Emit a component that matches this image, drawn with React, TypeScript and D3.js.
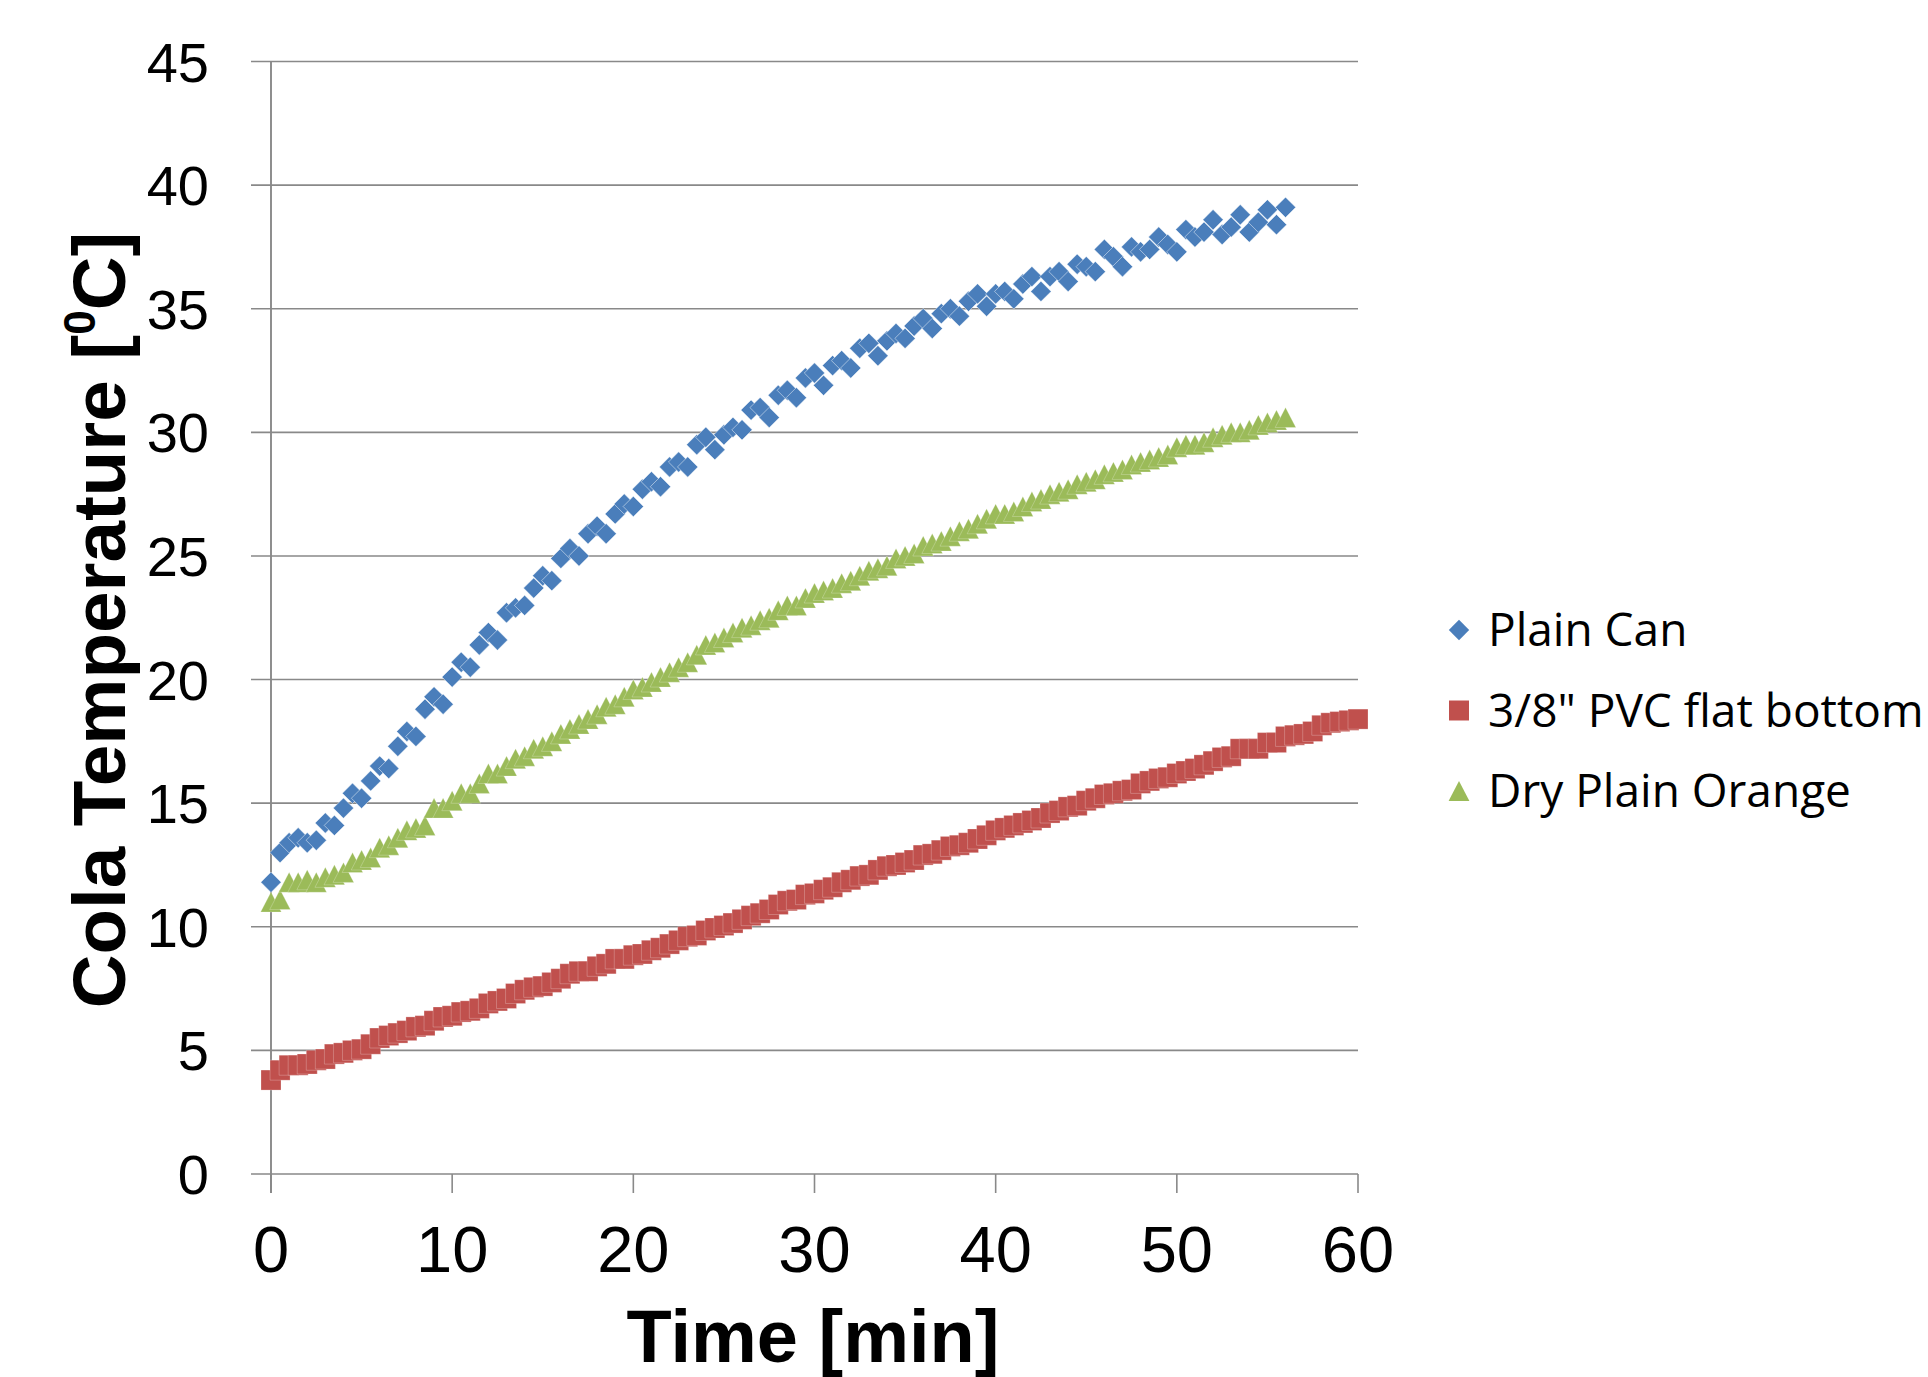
import React from "react";
import * as d3 from "d3";

// ---- data ----
const seriesNames = ["Plain Can", '3/8" PVC flat bottom', "Dry Plain Orange"];
const seriesColors = ["#4A7EBB", "#C0504D", "#9BBB59"];
const sampleStep = 0.5; // minutes between samples

const plainCan = [
  11.8, 13.0, 13.4, 13.6, 13.4, 13.5, 14.2, 14.1, 14.8, 15.4,
  15.2, 15.9, 16.5, 16.4, 17.3, 17.9, 17.7, 18.8, 19.3, 19.0,
  20.1, 20.7, 20.5, 21.4, 21.9, 21.6, 22.7, 22.9, 23.0, 23.7,
  24.2, 24.0, 24.9, 25.3, 25.0, 25.9, 26.2, 25.9, 26.7, 27.1,
  27.0, 27.7, 28.0, 27.8, 28.6, 28.8, 28.6, 29.5, 29.8, 29.3,
  29.9, 30.2, 30.1, 30.9, 31.0, 30.6, 31.5, 31.7, 31.4, 32.2,
  32.4, 31.9, 32.7, 32.9, 32.6, 33.4, 33.6, 33.1, 33.7, 34.0,
  33.8, 34.3, 34.6, 34.2, 34.8, 35.0, 34.7, 35.3, 35.6, 35.1,
  35.6, 35.7, 35.4, 36.0, 36.3, 35.7, 36.3, 36.5, 36.1, 36.8,
  36.7, 36.5, 37.4, 37.1, 36.7, 37.5, 37.3, 37.4, 37.9, 37.6,
  37.3, 38.2, 37.9, 38.1, 38.6, 38.0, 38.3, 38.8, 38.1, 38.5,
  39.0, 38.4, 39.1,
];

const pvcFlatBottom = [
  3.8, 4.2, 4.4, 4.4, 4.45, 4.6, 4.65, 4.85, 4.9, 5.0,
  5.05, 5.25, 5.5, 5.6, 5.7, 5.8, 5.95, 6.0, 6.2, 6.35,
  6.4, 6.55, 6.6, 6.7, 6.9, 7.0, 7.1, 7.3, 7.45, 7.55,
  7.6, 7.75, 7.9, 8.1, 8.2, 8.2, 8.4, 8.5, 8.7, 8.7,
  8.85, 8.9, 9.05, 9.15, 9.3, 9.45, 9.6, 9.65, 9.85, 9.95,
  10.05, 10.15, 10.3, 10.45, 10.55, 10.7, 10.9, 11.05, 11.1, 11.3,
  11.35, 11.5, 11.6, 11.8, 11.9, 12.05, 12.1, 12.3, 12.45, 12.5,
  12.6, 12.7, 12.9, 12.95, 13.1, 13.25, 13.3, 13.4, 13.55, 13.7,
  13.9, 14.0, 14.1, 14.2, 14.3, 14.4, 14.6, 14.7, 14.85, 14.9,
  15.1, 15.2, 15.35, 15.4, 15.5, 15.55, 15.8, 15.9, 16.0, 16.05,
  16.2, 16.3, 16.4, 16.55, 16.7, 16.85, 16.9, 17.2, 17.2, 17.2,
  17.45, 17.45, 17.7, 17.75, 17.8, 17.9, 18.15, 18.25, 18.3, 18.35,
  18.4,
];

const dryPlainOrange = [
  11.0, 11.1, 11.8, 11.8, 11.9, 11.8, 12.0, 12.1, 12.2, 12.6,
  12.7, 12.8, 13.2, 13.3, 13.6, 13.9, 14.0, 14.1, 14.8, 14.8,
  15.1, 15.4, 15.4, 15.8, 16.2, 16.2, 16.5, 16.8, 16.9, 17.2,
  17.3, 17.5, 17.8, 18.0, 18.2, 18.4, 18.6, 18.9, 19.0, 19.3,
  19.6, 19.7, 19.9, 20.1, 20.3, 20.5, 20.7, 21.0, 21.4, 21.5,
  21.7, 21.9, 22.1, 22.2, 22.4, 22.5, 22.8, 23.0, 23.0, 23.3,
  23.5, 23.6, 23.7, 23.9, 24.0, 24.2, 24.4, 24.5, 24.6, 24.9,
  25.0, 25.1, 25.4, 25.5, 25.6, 25.8, 26.0, 26.1, 26.3, 26.5,
  26.7, 26.7, 26.8, 27.0, 27.2, 27.3, 27.5, 27.6, 27.7, 27.9,
  28.0, 28.1, 28.3, 28.4, 28.5, 28.7, 28.8, 28.9, 29.0, 29.1,
  29.4, 29.5, 29.5, 29.6, 29.8, 29.9, 30.0, 30.0, 30.1, 30.3,
  30.4, 30.5, 30.6,
];

const xTickValues = [0, 10, 20, 30, 40, 50, 60];
const yTickValues = [0, 5, 10, 15, 20, 25, 30, 35, 40, 45];

// ---- layout ----
const W = 1928;
const H = 1377;
const plotLeft = 271;
const plotRight = 1358;
const plotTop = 61.5;
const plotBottom = 1174;

const markerPaths = [
  "M0,-10.2L10.2,0L0,10.2L-10.2,0Z", // diamond
  "M-10,-10H10V10H-10Z", // square
  "M0,-10L10.4,10H-10.4Z", // triangle
];

export default function App() {
  const x = d3.scaleLinear().domain([0, 60]).range([plotLeft, plotRight]);
  const y = d3.scaleLinear().domain([0, 45]).range([plotBottom, plotTop]);
  const series = [plainCan, pvcFlatBottom, dryPlainOrange];
  const gridColor = "#898989";

  return (
    <svg
      width={W}
      height={H}
      style={{ position: "absolute", left: 0, top: 0, background: "#fff" }}
      xmlns="http://www.w3.org/2000/svg"
    >
      <rect x={0} y={0} width={W} height={H} fill="#fff" />
      {/* horizontal gridlines (with outward y ticks) */}
      {yTickValues.map((v) => (
        <line
          key={"g" + v}
          x1={plotLeft - 20}
          x2={plotRight}
          y1={y(v)}
          y2={y(v)}
          stroke={gridColor}
          strokeWidth={1.6}
        />
      ))}
      {/* y axis line */}
      <line
        x1={x(0)}
        x2={x(0)}
        y1={plotTop}
        y2={plotBottom + 19}
        stroke={gridColor}
        strokeWidth={1.9}
      />
      {/* x ticks */}
      {xTickValues.map((t) => (
        <line
          key={"xt" + t}
          x1={x(t)}
          x2={x(t)}
          y1={plotBottom}
          y2={plotBottom + 19}
          stroke={gridColor}
          strokeWidth={1.6}
        />
      ))}
      {/* y tick labels */}
      {yTickValues.map((v) => (
        <text
          key={"yl" + v}
          x={209}
          y={y(v) + 20}
          textAnchor="end"
          fontFamily="'Liberation Sans', Arial, sans-serif"
          fontSize={56}
          fill="#000"
        >
          {v}
        </text>
      ))}
      {/* x tick labels */}
      {xTickValues.map((t) => (
        <text
          key={"xl" + t}
          x={x(t)}
          y={1272}
          textAnchor="middle"
          fontFamily="'Liberation Sans', Arial, sans-serif"
          fontSize={65}
          fill="#000"
        >
          {t}
        </text>
      ))}
      {/* axis titles */}
      <text
        x={813}
        y={1362}
        textAnchor="middle"
        fontFamily="'Liberation Sans', Arial, sans-serif"
        fontWeight="bold"
        fontSize={74}
        fill="#000"
      >
        Time [min]
      </text>
      <text
        transform="translate(125,620) rotate(-90)"
        textAnchor="middle"
        fontFamily="'Liberation Sans', Arial, sans-serif"
        fontWeight="bold"
        fontSize={74.5}
        fill="#000"
      >
        Cola Temperature [
        <tspan fontSize={44} dy={-30}>
          0
        </tspan>
        <tspan dy={30}>C]</tspan>
      </text>
      {/* markers */}
      {series.map((vals, si) => (
        <g key={"s" + si} fill={seriesColors[si]}>
          {vals.map((v, i) => (
            <path
              key={i}
              d={markerPaths[si]}
              transform={`translate(${x(i * sampleStep)},${y(v)})`}
              stroke="#ffffff"
              strokeOpacity={si === 0 ? 0.6 : 0.3}
              strokeWidth={0.8}
            />
          ))}
        </g>
      ))}
      {/* legend */}
      {seriesNames.map((name, si) => {
        const cy = 630 + si * 80.5;
        return (
          <g key={"lg" + si}>
            <path
              d={markerPaths[si]}
              transform={`translate(1459,${cy})`}
              fill={seriesColors[si]}
            />
            <text
              x={1488}
              y={cy + 16}
              fontFamily="'Open Sans', sans-serif"
              fontSize={46}
              fill="#000"
            >
              {name}
            </text>
          </g>
        );
      })}
    </svg>
  );
}
